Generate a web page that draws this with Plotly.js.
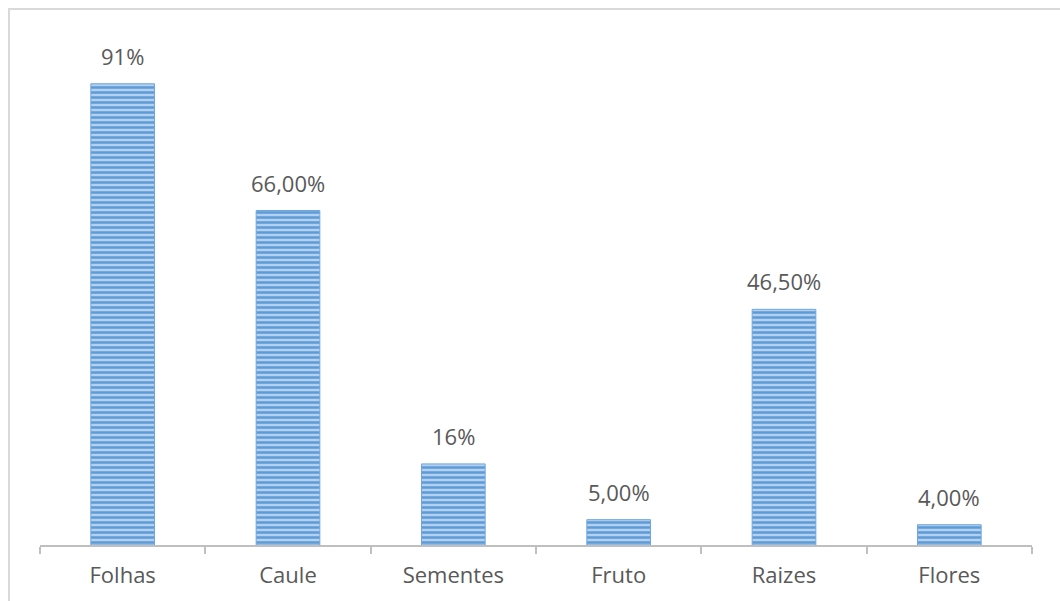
<!DOCTYPE html>
<html>
<head>
<meta charset="utf-8">
<script src="https://cdn.plot.ly/plotly-3.0.1.min.js"></script>
<style>
  html, body { margin: 0; padding: 0; background: #ffffff; }
  #frame {
    position: absolute; left: 8px; top: 8px; width: 1080px; height: 620px;
    border-left: 2px solid #d9d9d9; border-top: 2px solid #d9d9d9;
    box-sizing: border-box;
  }
  #chart { position: absolute; left: 0; top: 0; width: 1060px; height: 601px; }
</style>
</head>
<body>
<div id="frame"></div>
<div id="chart"></div>
<script>
// Plant parts and the share of each one
const categories = ["Folhas", "Caule", "Sementes", "Fruto", "Raizes", "Flores"];
const values = [91, 66, 16, 5, 46.5, 4];
const valueLabels = ["91%", "66,00%", "16%", "5,00%", "46,50%", "4,00%"];

const labelFont = { family: "Open Sans, Liberation Sans, sans-serif", size: 22, color: "#595959" };

const trace = {
  type: "bar",
  x: categories,
  y: values,
  width: 0.385,
  marker: {
    color: "#b3d0ee",
    line: { width: 1, color: "#6fa6dc" },
    pattern: { shape: "-", fgcolor: "#5d9bd8", bgcolor: "#b3d0ee", size: 5, solidity: 0.5 }
  },
  hoverinfo: "skip"
};

// Value labels sitting above each bar
const annotations = categories.map((c, i) => ({
  x: c, y: values[i], xref: "x", yref: "y",
  text: valueLabels[i], showarrow: false,
  yanchor: "bottom", yshift: 11, font: labelFont
}));

const layout = {
  width: 1060, height: 601,
  margin: { l: 40, r: 28, t: 25, b: 56 },
  paper_bgcolor: "rgba(0,0,0,0)",
  plot_bgcolor: "rgba(0,0,0,0)",
  showlegend: false,
  xaxis: {
    type: "category",
    showline: true, linecolor: "#bfbfbf", linewidth: 2,
    ticks: "outside", tickson: "boundaries", ticklen: 7, tickwidth: 2, tickcolor: "#bfbfbf",
    tickfont: labelFont, ticklabelstandoff: 10, showgrid: false, zeroline: false,
    fixedrange: true
  },
  yaxis: {
    range: [0, 102.6], visible: false, showgrid: false, zeroline: false, fixedrange: true
  },
  annotations: annotations
};

Plotly.newPlot("chart", [trace], layout, { displayModeBar: false, staticPlot: true });
</script>
</body>
</html>
